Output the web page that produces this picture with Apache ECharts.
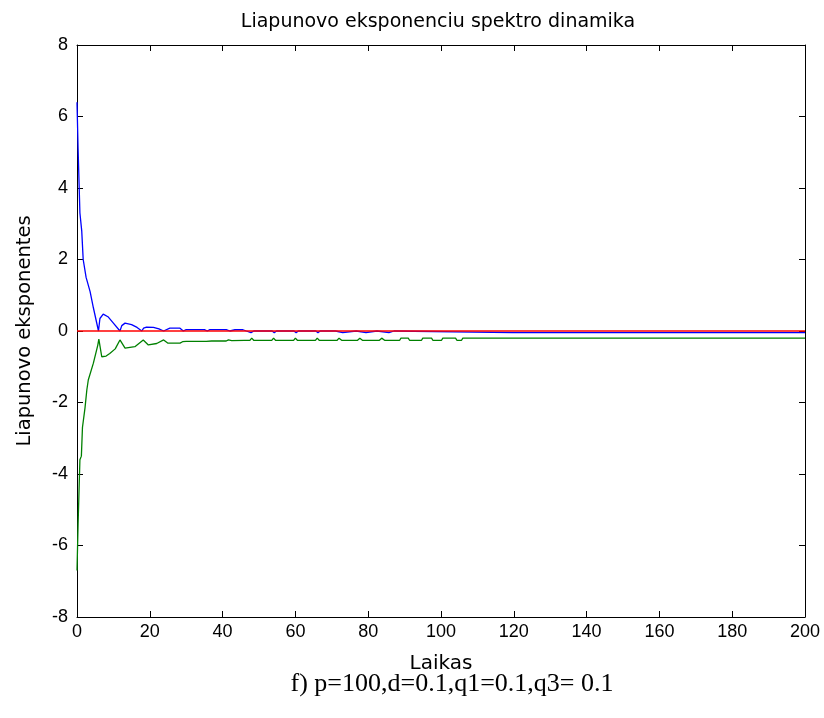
<!DOCTYPE html>
<html>
<head>
<meta charset="utf-8">
<script src="https://cdn.jsdelivr.net/npm/echarts@6/dist/echarts.min.js"></script>
<style>html,body{margin:0;padding:0;background:#fff}#c{width:824px;height:718px}</style>
</head>
<body>
<div id="c"></div>
<script>
// x-axis ticks and y-axis ticks
var xTicks = [0, 20, 40, 60, 80, 100, 120, 140, 160, 180, 200];
var yTicks = [-8, -6, -4, -2, 0, 2, 4, 6, 8];

// Blue exponent (time, value)
var blueX = [0, 0.3, 0.8, 1.3, 1.7, 2.5, 3.6, 4.5, 5.9, 6.3, 7.2, 8.5, 10, 11.8, 12.3, 13.2, 15, 16.5, 17.8, 18.3, 19.1, 21, 22.5, 23.8, 24.3, 25.5, 28.3, 29.2, 30, 35, 35.8, 36.5, 41, 42, 43.4, 45.6, 46.5, 47.8, 48.6, 53.6, 54.2, 54.8, 59.6, 60.2, 60.8, 65.6, 66.2, 66.8, 71.0, 71.3, 73, 73.3, 76.7, 77, 79.4, 79.7, 82.4, 82.7, 85.7, 86.0, 87.1, 87.4, 119.6, 120, 120.4, 125.6, 126, 126.4, 131.6, 132, 132.4, 200];
var blueY = [6.4, 5.1, 3.3, 2.8, 2.0, 1.5, 1.1, 0.65, 0.0, 0.35, 0.47, 0.4, 0.22, 0.0, 0.15, 0.22, 0.18, 0.1, 0.0, 0.08, 0.11, 0.1, 0.06, 0.0, 0.05, 0.08, 0.08, 0.0, 0.04, 0.04, 0.0, 0.04, 0.04, 0.0, 0.035, 0.035, 0.0, -0.045, 0.0, 0.0, -0.045, 0.0, 0.0, -0.045, 0.0, 0.0, -0.045, 0.0, 0.0, -0.045, -0.045, 0.0, 0.0, -0.045, -0.045, 0.0, 0.0, -0.045, -0.045, 0.0, 0.0, -0.045, -0.045, 0.0, -0.045, -0.045, 0.0, -0.045, -0.045, 0.0, -0.045, -0.045];

// Green exponent (time, value)
var greenX = [0, 0.3, 0.8, 1.2, 1.5, 2.2, 2.7, 3.1, 4.5, 5.7, 6.0, 6.8, 8, 9, 10.5, 11.8, 13.2, 15.9, 18.2, 19.6, 21.9, 23.8, 25, 28.3, 29, 30, 35.5, 36, 37, 41, 41.6, 42.5, 46, 47.5, 48, 48.6, 53.5, 54, 54.6, 59.5, 60, 60.6, 65.5, 66, 66.6, 71.4, 72, 72.8, 77.0, 77.7, 78.5, 83.0, 83.7, 84.6, 88.6, 89, 91, 91.4, 94.6, 95, 97.4, 97.8, 100.1, 100.5, 104, 104.4, 105.6, 106, 200];
var greenY = [-6.7, -5.4, -3.6, -3.5, -2.7, -2.15, -1.65, -1.37, -0.9, -0.4, -0.23, -0.72, -0.7, -0.63, -0.5, -0.25, -0.48, -0.44, -0.25, -0.39, -0.35, -0.25, -0.34, -0.34, -0.3, -0.29, -0.29, -0.25, -0.28, -0.28, -0.25, -0.27, -0.265, -0.265, -0.2, -0.265, -0.265, -0.2, -0.265, -0.265, -0.2, -0.265, -0.265, -0.2, -0.265, -0.265, -0.2, -0.265, -0.265, -0.2, -0.265, -0.265, -0.2, -0.265, -0.265, -0.2, -0.2, -0.265, -0.265, -0.2, -0.2, -0.265, -0.265, -0.2, -0.2, -0.265, -0.265, -0.2, -0.2];

// Red exponent (time, value)
var redX = [0, 200];
var redY = [0, 0];

function pairs(xs, ys) { return xs.map(function (x, i) { return [x, ys[i]]; }); }

var numFont = "'Liberation Sans', Arial, sans-serif";
var txtFont = "'DejaVu Sans', Verdana, sans-serif";

var chart = echarts.init(document.getElementById('c'), null, { renderer: 'canvas' });
chart.setOption({
  animation: false,
  backgroundColor: '#ffffff',
  title: {
    text: 'Liapunovo eksponenciu spektro dinamika',
    left: 433, textAlign: 'center', top: 8,
    textStyle: { fontFamily: txtFont, fontSize: 19, fontWeight: 'normal', color: '#000' }
  },
  grid: { left: 77, right: 19, top: 45, bottom: 101, containLabel: false },
  xAxis: [{
    type: 'value', min: xTicks[0], max: xTicks[xTicks.length - 1], interval: 20,
    name: 'Laikas', nameLocation: 'middle', nameGap: 37,
    nameTextStyle: { fontFamily: txtFont, fontSize: 20, color: '#000' },
    axisLine: { show: true, onZero: false, lineStyle: { color: '#000', width: 1 } },
    axisTick: { show: true, inside: true, length: 6, lineStyle: { color: '#000' } },
    axisLabel: { fontFamily: numFont, fontSize: 18, color: '#000', margin: 6 },
    splitLine: { show: false }
  }, {
    type: 'value', position: 'top', min: 0, max: 200, interval: 20,
    axisLine: { show: true, onZero: false, lineStyle: { color: '#000', width: 1 } },
    axisTick: { show: true, inside: true, length: 6, lineStyle: { color: '#000' } },
    axisLabel: { show: false }, splitLine: { show: false }
  }],
  yAxis: [{
    type: 'value', min: yTicks[0], max: yTicks[yTicks.length - 1], interval: 2,
    name: 'Liapunovo eksponentes', nameLocation: 'middle', nameGap: 42, nameRotate: 90,
    nameTextStyle: { fontFamily: txtFont, fontSize: 19.5, color: '#000' },
    axisLine: { show: true, onZero: false, lineStyle: { color: '#000', width: 1 } },
    axisTick: { show: true, inside: true, length: 6, lineStyle: { color: '#000' } },
    axisLabel: { fontFamily: numFont, fontSize: 18, color: '#000', margin: 9 },
    splitLine: { show: false }
  }, {
    type: 'value', position: 'right', min: -8, max: 8, interval: 2,
    axisLine: { show: true, onZero: false, lineStyle: { color: '#000', width: 1 } },
    axisTick: { show: true, inside: true, length: 6, lineStyle: { color: '#000' } },
    axisLabel: { show: false }, splitLine: { show: false }
  }],
  series: [
    { type: 'line', name: 'blue', data: pairs(blueX, blueY), showSymbol: false, symbol: 'none',
      lineStyle: { color: '#0000ff', width: 1.3 }, z: 2 },
    { type: 'line', name: 'green', data: pairs(greenX, greenY), showSymbol: false, symbol: 'none',
      lineStyle: { color: '#008000', width: 1.3 }, z: 2 },
    { type: 'line', name: 'red', data: pairs(redX, redY), showSymbol: false, symbol: 'none',
      lineStyle: { color: '#ff0000', width: 1.6 }, z: 3 }
  ],
  graphic: [{
    type: 'text', x: 452, y: 671,
    style: { text: 'f) p=100,d=0.1,q1=0.1,q3= 0.1', textAlign: 'center',
      font: "26px 'Liberation Serif', 'Times New Roman', serif", fill: '#000' }
  }]
});
</script>
</body>
</html>
